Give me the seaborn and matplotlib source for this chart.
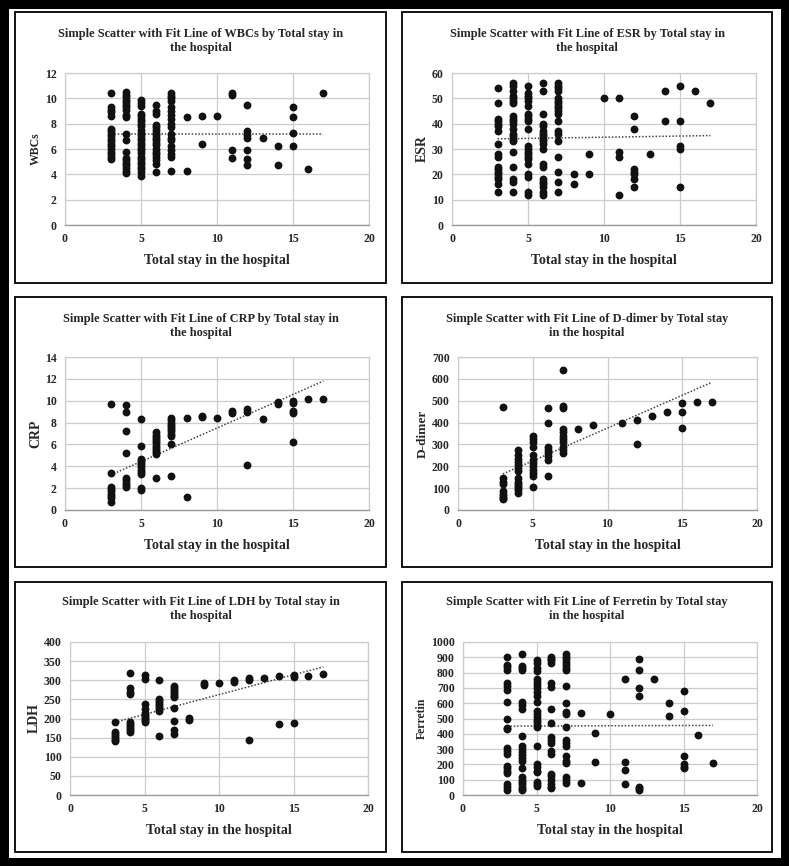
import numpy as np
import pandas as pd
import matplotlib.pyplot as plt
from matplotlib.patches import Rectangle
import seaborn as sns

# ── data (x = total stay in days) ────────────────────────────────────────────
wbc_by_day = {
    3: [10.4, 9.3, 9.1, 8.9, 8.6, 7.6, 7.4, 7.2, 7.0, 6.8, 6.6, 6.4, 6.2, 6.0, 5.8, 5.6, 5.4, 5.2],
    4: [10.5, 10.3, 10.1, 9.9, 9.7, 9.5, 9.3, 9.1, 8.7, 8.5, 7.2, 6.7, 5.8, 5.3, 5.1, 4.9, 4.7, 4.5, 4.3, 4.1],
    5: [9.9, 9.6, 9.4, 8.8, 8.6, 8.4, 8.2, 8.0, 7.8, 7.5, 7.3, 7.1, 6.9, 6.7, 6.5, 6.3, 6.1, 5.9, 5.7,
        5.4, 5.2, 5.0, 4.8, 4.6, 4.4, 4.2, 3.9],
    6: [9.5, 9.0, 8.8, 7.9, 7.7, 7.5, 7.3, 7.1, 6.9, 6.7, 6.5, 6.3, 6.0, 5.8, 5.6, 5.4, 5.1, 4.8, 4.2],
    7: [10.4, 10.2, 10.0, 9.8, 9.3, 9.0, 8.7, 8.4, 8.0, 7.7, 7.2, 6.9, 6.7, 6.2, 5.9, 5.6, 5.4, 4.3],
    8: [8.5, 4.3], 9: [8.6, 6.4], 10: [8.6], 11: [10.4, 10.3, 5.9, 5.3],
    12: [9.5, 7.4, 7.1, 6.9, 5.9, 5.2, 4.7], 13: [6.9], 14: [6.2, 4.7],
    15: [9.3, 8.5, 7.3, 6.2], 16: [4.4], 17: [10.4],
}
esr_by_day = {
    3: [54, 48, 42, 41, 40, 39, 37, 32, 28, 27, 23, 22, 21, 20, 19, 18, 16, 13],
    4: [56, 55, 53, 51, 50, 49, 48, 43, 42, 41, 40, 38, 36, 35, 34, 33, 29, 23, 18, 17, 13],
    5: [55, 52, 51, 50, 49, 47, 44, 43, 42, 41, 38, 31, 30, 29, 28, 27, 26, 24, 20, 19, 13, 12],
    6: [56, 53, 44, 40, 39, 37, 36, 35, 34, 33, 32, 30, 24, 23, 18, 17, 16, 15, 13, 12],
    7: [56, 55, 54, 53, 50, 49, 48, 47, 46, 45, 44, 41, 37, 36, 33, 27, 21, 17, 13],
    8: [20, 16], 9: [28, 20], 10: [50], 11: [50, 29, 27, 12],
    12: [43, 38, 22, 21, 20, 18, 15], 13: [28], 14: [53, 41],
    15: [55, 41, 31, 30, 15], 16: [53], 17: [48],
}
crp_by_day = {
    3: [9.7, 3.4, 2.1, 1.9, 1.7, 1.5, 1.3, 1.1, 0.7],
    4: [9.6, 9.0, 7.2, 5.2, 2.9, 2.7, 2.5, 2.3, 2.1],
    5: [8.3, 5.9, 4.7, 4.5, 4.3, 4.1, 3.9, 3.7, 3.5, 3.3, 2.0, 1.8],
    6: [7.1, 6.9, 6.7, 6.5, 6.3, 6.1, 5.9, 5.7, 5.5, 5.3, 5.1, 2.9],
    7: [8.4, 8.2, 8.0, 7.8, 7.6, 7.4, 7.2, 7.0, 6.8, 6.0, 3.1],
    8: [8.4, 1.2], 9: [8.6, 8.5], 10: [8.4], 11: [9.1, 8.9],
    12: [9.2, 9.0, 4.1], 13: [8.3], 14: [9.9, 9.7],
    15: [10.0, 9.8, 9.1, 8.9, 6.2], 16: [10.2], 17: [10.2],
}
ddimer_by_day = {
    3: [472, 145, 130, 120, 85, 75, 65, 55, 50],
    4: [275, 250, 235, 220, 205, 190, 180, 145, 130, 120, 110, 100, 90, 80],
    5: [340, 325, 310, 290, 250, 230, 215, 200, 185, 170, 155, 103],
    6: [465, 400, 290, 275, 260, 245, 230, 155],
    7: [640, 478, 468, 370, 355, 340, 325, 310, 290, 275, 260],
    8: [372], 9: [390], 11: [398], 12: [412, 300], 13: [432], 14: [450],
    15: [488, 450, 375], 16: [492], 17: [495],
}
ldh_by_day = {
    3: [192, 165, 160, 155, 150, 145, 140],
    4: [318, 280, 270, 265, 190, 185, 180, 175, 170, 165],
    5: [315, 302, 238, 225, 215, 210, 205, 200, 195, 190],
    6: [300, 250, 245, 240, 235, 230, 225, 220, 155],
    7: [285, 280, 275, 270, 265, 260, 255, 228, 193, 170, 160],
    8: [202, 196], 9: [293, 288], 10: [293], 11: [300, 296],
    12: [307, 300, 143], 13: [306], 14: [310, 186],
    15: [313, 308, 188], 16: [312], 17: [316],
}
ferretin_by_day = {
    3: [905, 850, 835, 820, 730, 710, 685, 605, 500, 440, 430, 305, 285, 265, 190, 175, 160, 145, 75, 55, 30],
    4: [920, 845, 830, 815, 605, 590, 565, 385, 320, 300, 280, 260, 240, 220, 175, 115, 100, 85, 70, 55, 40, 30],
    5: [880, 860, 830, 810, 755, 740, 720, 700, 670, 650, 605, 550, 530, 510, 490, 475, 460, 445,
        320, 200, 185, 160, 150, 85, 75, 60],
    6: [900, 890, 880, 865, 735, 705, 565, 470, 380, 360, 340, 285, 265, 140, 125, 100, 75, 55, 45],
    7: [920, 905, 890, 870, 850, 830, 815, 715, 600, 545, 530, 445, 360, 340, 320, 255, 225, 210, 115, 100, 80],
    8: [535, 80], 9: [405, 215], 10: [530], 11: [755, 215, 165, 70],
    12: [890, 815, 700, 645, 55, 45, 35], 13: [760], 14: [600, 515],
    15: [680, 550, 255, 205, 185, 175], 16: [390], 17: [210],
}

# fitted line end points (value at day 3 and day 17), as drawn in the reference
fit_x = [3, 17]
wbc_fit = [7.2, 7.2]
esr_fit = [34.0, 35.3]
crp_fit = [3.2, 11.8]
ddimer_fit = [165, 585]
ldh_fit = [190, 335]
ferretin_fit = [450, 455]

names = ['WBCs', 'ESR', 'CRP', 'D-dimer', 'LDH', 'Ferretin']
y_max = [12, 60, 14, 700, 400, 1000]
y_step = [2, 10, 2, 100, 50, 100]
titles = [
    "Simple Scatter with Fit Line of WBCs by Total stay in\nthe hospital",
    "Simple Scatter with Fit Line of ESR by Total stay in\nthe hospital",
    "Simple Scatter with Fit Line of CRP by Total stay in\nthe hospital",
    "Simple Scatter with Fit Line of D-dimer by Total stay\nin the hospital",
    "Simple Scatter with Fit Line of LDH by Total stay in\nthe hospital",
    "Simple Scatter with Fit Line of Ferretin by Total stay\nin the hospital",
]
series = [wbc_by_day, esr_by_day, crp_by_day, ddimer_by_day, ldh_by_day, ferretin_by_day]
fits = [wbc_fit, esr_fit, crp_fit, ddimer_fit, ldh_fit, ferretin_fit]

# ── layout in pixels (x0, x1, y0, y1 from top-left) ──────────────────────────
W, H = 789, 866
plot_px = [(65, 369, 73, 225), (452, 756, 73, 225),
           (65, 369, 357, 510), (458, 757, 357, 510),
           (70, 368, 642, 795), (463, 757, 642, 795)]
box_px = [(15, 386, 12, 283), (402, 772, 12, 283),
          (15, 386, 297, 567), (402, 772, 297, 567),
          (15, 386, 582, 852), (402, 772, 582, 852)]
title_y = [41, 41, 326, 326, 609, 609]
ylab_size = [8.5, 10, 10, 9.5, 10, 8.5]

sns.set_theme(style='white')
plt.rcParams['font.family'] = ['Liberation Serif', 'DejaVu Serif']
plt.rcParams['font.weight'] = 'bold'

fig = plt.figure(figsize=(W / 100, H / 100), dpi=100)
fig.patch.set_facecolor('white')


def fx(px):
    return px / W


def fy(py):
    return 1 - py / H


# outer frame
fig.patches.append(Rectangle((fx(4), fy(862)), fx(781), 1 - 8 / H, transform=fig.transFigure,
                             fill=False, edgecolor='black', linewidth=6.5))

for i in range(6):
    bx0, bx1, by0, by1 = box_px[i]
    fig.patches.append(Rectangle((fx(bx0), fy(by1)), fx(bx1 - bx0), (by1 - by0) / H,
                                 transform=fig.transFigure, fill=False,
                                 edgecolor='black', linewidth=1.3))
    fig.text(fx((bx0 + bx1) / 2), fy(title_y[i]), titles[i], ha='center', va='center',
             fontsize=8.9, fontweight='bold', linespacing=1.15)

    x0, x1, y0, y1 = plot_px[i]
    ax = fig.add_axes([fx(x0), fy(y1), fx(x1 - x0), (y1 - y0) / H])

    rows = [(d, v) for d, vals in series[i].items() for v in vals]
    df = pd.DataFrame(rows, columns=['stay', names[i]])
    sns.scatterplot(data=df, x='stay', y=names[i], color='#111111', s=32,
                    linewidth=0, ax=ax, zorder=3)
    sns.lineplot(x=fit_x, y=fits[i], color='#444444', linestyle=(0, (1, 1.2)),
                 linewidth=1.1, ax=ax, zorder=2)

    ax.set_xlim(0, 20)
    ax.set_ylim(0, y_max[i])
    ax.set_xticks(range(0, 21, 5))
    ax.set_yticks(np.arange(0, y_max[i] + 1, y_step[i]))
    ax.grid(True, color='#cccccc', linewidth=0.9)
    ax.set_axisbelow(True)
    for side in ['top', 'right', 'left']:
        ax.spines[side].set_color('#cccccc')
        ax.spines[side].set_linewidth(0.9)
    ax.spines['bottom'].set_color('#999999')
    ax.spines['bottom'].set_linewidth(1.0)
    ax.tick_params(length=0, labelsize=8.5, pad=6)
    for lab in ax.get_xticklabels() + ax.get_yticklabels():
        lab.set_fontweight('bold')
    ax.set_xlabel('Total stay in the hospital', fontsize=10, fontweight='bold', labelpad=6)
    ax.set_ylabel(names[i], fontsize=ylab_size[i], fontweight='bold', labelpad=2)

fig.savefig('out.png', dpi=100, facecolor='white')
